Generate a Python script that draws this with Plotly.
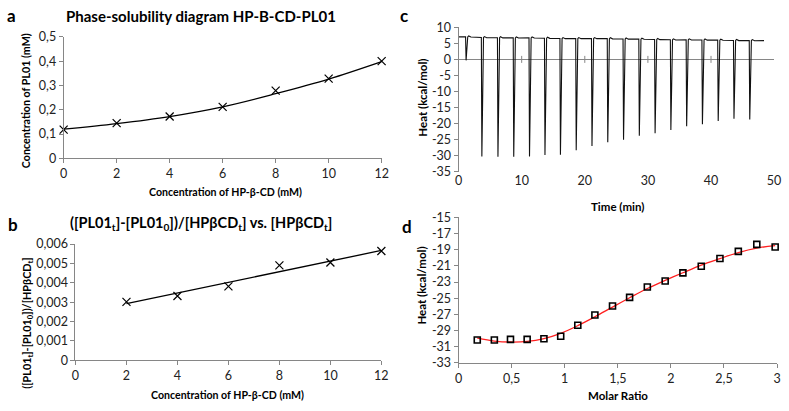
import plotly.graph_objects as go

W, H = 789, 411
FONT = "Lato"

# ---------------- Panel a data ----------------
a_x = [0, 2, 4, 6, 8, 10, 12]
a_y = [0.118, 0.145, 0.172, 0.212, 0.279, 0.328, 0.400]
a_fit_x = [0, 2, 4, 6, 8, 10, 12]
a_fit_y = [0.120, 0.143, 0.172, 0.212, 0.266, 0.326, 0.398]

# ---------------- Panel b data ----------------
b_x = [2, 4, 6, 8, 10, 12]
b_y = [0.00302, 0.00332, 0.00382, 0.00490, 0.00505, 0.00564]
b_fit_x = [2, 12]
b_fit_y = [0.00293, 0.00567]

# ---------------- Panel c data (raw ITC thermogram) ----------------
c_start = 7.0
c_end_t = 48.4
c_end_y = 5.85
spike_t = [1.15, 3.65, 6.2, 8.7, 11.2, 13.65, 16.1, 18.6, 21.1, 23.6,
           26.1, 28.6, 31.1, 33.6, 36.1, 38.6, 41.1, 43.6, 46.1]
spike_min = [-0.3, -30.2, -30.3, -30.3, -30.2, -29.8, -29.7, -28.3, -27.0, -25.8,
             -25.0, -23.8, -23.0, -22.0, -20.8, -20.2, -19.2, -18.5, -18.7]
spike_base = [7.0, 6.8, 6.75, 6.7, 6.7, 6.6, 6.5, 6.5, 6.5, 6.45,
              6.35, 6.3, 6.2, 6.1, 6.1, 6.05, 6.0, 5.9, 5.85]

# ---------------- Panel d data (integrated heats) ----------------
d_x = [0.176, 0.337, 0.489, 0.646, 0.804, 0.962, 1.123, 1.284, 1.45,
       1.611, 1.778, 1.946, 2.113, 2.286, 2.462, 2.635, 2.809, 2.982]
d_y = [-30.18, -30.18, -30.10, -30.10, -30.02, -29.70, -28.35, -27.08, -25.97,
       -24.90, -23.62, -22.87, -21.87, -21.04, -20.09, -19.21, -18.34, -18.66]
d_fit_y = [-29.95, -30.30, -30.42, -30.35, -30.00, -29.35, -28.40, -27.30, -26.10,
           -24.95, -23.80, -22.80, -21.85, -20.90, -20.10, -19.35, -18.80, -18.50]

# tick labels
a_yt = [0, 0.1, 0.2, 0.3, 0.4, 0.5]
a_yl = ["0", "0,1", "0,2", "0,3", "0,4", "0,5"]
ab_xt = [0, 2, 4, 6, 8, 10, 12]
b_yt = [0, 0.001, 0.002, 0.003, 0.004, 0.005, 0.006]
b_yl = ["0", "0,001", "0,002", "0,003", "0,004", "0,005", "0,006"]
c_xt = [0, 10, 20, 30, 40, 50]
c_yt = [10, 5, 0, -5, -10, -15, -20, -25, -30, -35]
d_xt = [0, 0.5, 1, 1.5, 2, 2.5, 3]
d_xl = ["0", "0,5", "1", "1,5", "2", "2,5", "3"]
d_yt = [-15, -17, -19, -21, -23, -25, -27, -29, -31, -33]

# build thermogram trace from the spike table
cx, cy = [0.0], [c_start]
for t, m, b in zip(spike_t, spike_min, spike_base):
    cx += [t - 0.04, t + 0.04, t + 0.3, t + 0.45, t + 0.8]
    cy += [b, m, b, b + 0.3, b - 0.05]
cx.append(c_end_t)
cy.append(c_end_y)

fig = go.Figure()

AX = "#868686"
TK = dict(family=FONT, size=12.5, color="#222")


def px(x):
    return x / W


def py(y):
    return 1 - y / H


XM = dict(symbol="x-thin-open", size=8, color="black", line=dict(color="black", width=1.2))

fig.add_trace(go.Scatter(x=a_fit_x, y=a_fit_y, mode="lines", line=dict(color="black", width=1.3, shape="spline"),
                         xaxis="x", yaxis="y", cliponaxis=False))
fig.add_trace(go.Scatter(x=a_x, y=a_y, mode="markers", marker=XM, xaxis="x", yaxis="y", cliponaxis=False))
fig.add_trace(go.Scatter(x=b_fit_x, y=b_fit_y, mode="lines", line=dict(color="black", width=1.3),
                         xaxis="x2", yaxis="y2", cliponaxis=False))
fig.add_trace(go.Scatter(x=b_x, y=b_y, mode="markers", marker=XM, xaxis="x2", yaxis="y2", cliponaxis=False))
fig.add_trace(go.Scatter(x=c_xt[1:-1], y=[0] * (len(c_xt) - 2), mode="markers",
                         marker=dict(symbol="line-ns-open", size=5, color=AX, line=dict(color=AX, width=1)),
                         xaxis="x3", yaxis="y3"))
fig.add_trace(go.Scatter(x=cx, y=cy, mode="lines", line=dict(color="#111", width=1.1),
                         xaxis="x3", yaxis="y3"))
fig.add_trace(go.Scatter(x=d_x, y=d_fit_y, mode="lines", line=dict(color="#ff2020", width=1.3, shape="spline"),
                         xaxis="x4", yaxis="y4", cliponaxis=False))
fig.add_trace(go.Scatter(x=d_x, y=d_y, mode="markers",
                         marker=dict(symbol="square-open", size=6, color="black", line=dict(color="black", width=1.6)),
                         xaxis="x4", yaxis="y4", cliponaxis=False))


def xax(dom, anchor, rng, tv, tt=None, line=True):
    d = dict(domain=dom, anchor=anchor, range=rng, tickvals=tv, ticktext=tt or [str(v) for v in tv],
             showgrid=False, zeroline=False,
             showline=line, linecolor=AX, linewidth=1, ticks="outside" if line else "", ticklen=4,
             tickcolor=AX, tickfont=TK, ticklabeloverflow="allow")
    return d


def yax(dom, anchor, rng, tv, tt=None):
    d = dict(domain=dom, anchor=anchor, range=rng, tickvals=tv, ticktext=tt or [str(v) for v in tv],
             showgrid=False, zeroline=False, showline=True, linecolor=AX, linewidth=1,
             ticks="outside", ticklen=4, tickcolor=AX, tickfont=TK, ticklabeloverflow="allow")
    return d


fig.update_layout(
    width=W, height=H, margin=dict(l=0, r=0, t=0, b=0),
    paper_bgcolor="white", plot_bgcolor="white", showlegend=False,
    font=dict(family=FONT, color="black"),
    xaxis=xax([px(60.5), px(383)], "y", [0, 12], ab_xt),
    yaxis=yax([py(156), py(30)], "x", [0, 0.5], a_yt, a_yl),
    xaxis2=xax([px(72.5), px(382.7)], "y2", [0, 12], ab_xt),
    yaxis2=yax([py(365.7), py(245)], "x2", [0, 0.006], b_yt, b_yl),
    xaxis3=xax([px(461), px(781)], "y3", [0, 50], c_xt, line=False),
    yaxis3=yax([py(170), py(20)], "x3", [-35, 10], c_yt),
    xaxis4=xax([px(461), px(784)], "y4", [0, 3], d_xt, d_xl),
    yaxis4=yax([py(368.3), py(217.3)], "x4", [-33, -15], d_yt),
)
fig.update_layout(yaxis3=dict(zeroline=True, zerolinecolor=AX, zerolinewidth=1))

ann = []


def txt(x, y, s, size=13, angle=0):
    ann.append(dict(x=px(x), y=py(y), xref="paper", yref="paper", text="<b>" + s + "</b>", showarrow=False,
                    textangle=angle, font=dict(family=FONT, size=size, color="black"),
                    xanchor="center", yanchor="middle"))


txt(8, 8, "a", 17)
txt(9, 225, "b", 17)
txt(406, 8, "c", 17)
txt(409, 227, "d", 17)
txt(200, 8, "Phase-solubility diagram HP-B-CD-PL01", 15)
txt(200, 224, "([PL01<sub>t</sub>]-[PL01<sub>0</sub>])/[HPβCD<sub>t</sub>] vs. [HPβCD<sub>t</sub>]", 14.5)
txt(225, 191, "Concentration of HP-β-CD (mM)", 10.6)
txt(227, 402, "Concentration of HP-β-CD (mM)", 10.6)
txt(622, 206, "Time (min)", 11.5)
txt(623, 402.5, "Molar Ratio", 11.5)
txt(22, 96, "Concentration of PL01 (mM)", 10.7, -90)
txt(23, 327, "([PL01<sub>t</sub>]-[PL01<sub>0</sub>])/[HPβCD<sub>t</sub>]", 10.8, -90)
txt(425, 93, "Heat (kcal/mol)", 11.5, -90)
txt(423, 288, "Heat (kcal/mol)", 11.5, -90)
fig.update_layout(annotations=ann)

fig.write_html("out.html", config={"displayModeBar": False},
               post_script="document.body.style.margin='0';document.body.style.padding='0';")
